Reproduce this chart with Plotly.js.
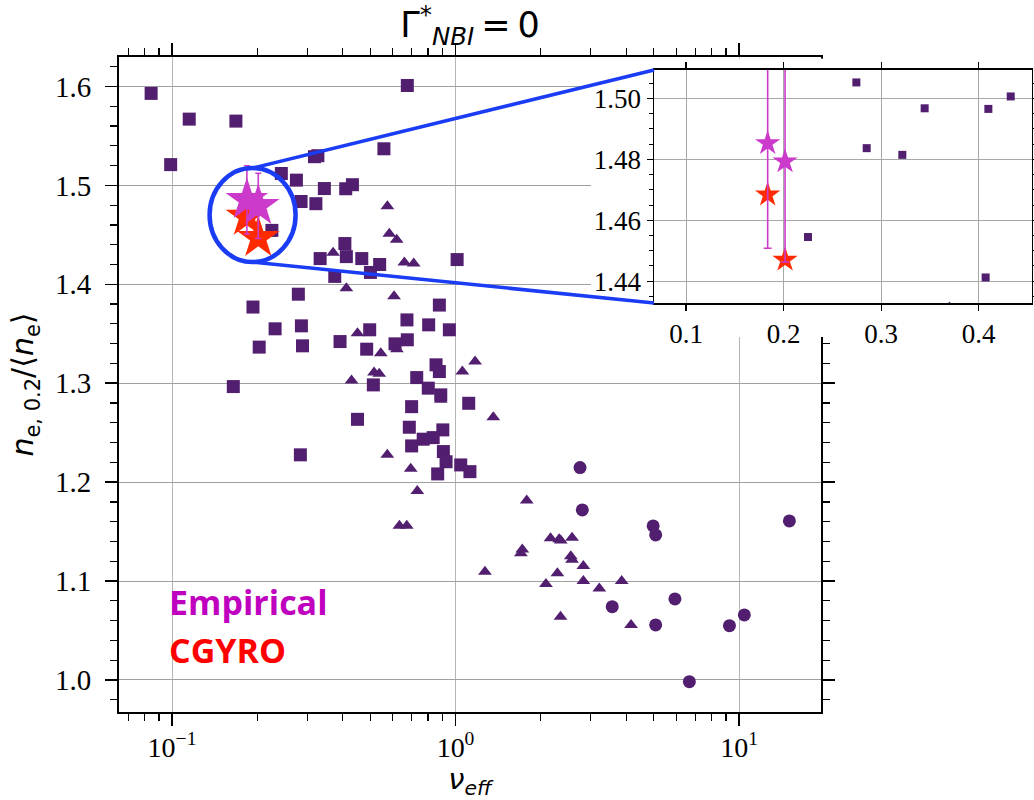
<!DOCTYPE html>
<html>
<head>
<meta charset="utf-8">
<script src="https://cdn.plot.ly/plotly-3.0.1.min.js"></script>
<style>html,body{margin:0;padding:0;background:#fff;}#chart{width:1034px;height:800px;}</style>
</head>
<body>
<div id="chart"></div>
<script>
// ---- data ----
const squareX = [0.0844,0.115,0.168,0.0989,0.676,0.318,0.327,0.559,0.243,0.2746,0.3446,0.4099,0.4328,0.2852,0.3217,0.225,0.333,0.4071,0.412,0.467,0.540,0.375,0.501,1.013,0.279,0.193,0.877,0.674,0.804,0.286,0.231,0.498,0.951,
  0.203,0.2885,0.3914,0.486,0.6117,0.676,0.8536,0.877,0.513,0.7297,0.8015,0.887,1.113,0.1645,0.700,0.451,0.687,0.902,0.769,0.834,0.700,0.906,0.926,1.043,1.124,0.865,0.2836];
const squareY = [1.593,1.567,1.565,1.521,1.601,1.529,1.530,1.537,1.512,1.5053,1.4968,1.4966,1.5007,1.4837,1.4815,1.4545,1.426,1.4412,1.428,1.426,1.420,1.408,1.412,1.425,1.390,1.377,1.379,1.364,1.359,1.358,1.355,1.354,1.354,
  1.3365,1.3378,1.3421,1.3344,1.3398,1.3439,1.3186,1.3118,1.2983,1.3057,1.2950,1.2882,1.2797,1.2966,1.2763,1.2635,1.2555,1.2528,1.2434,1.2450,1.2366,1.2309,1.2206,1.2174,1.2106,1.2083,1.2276];
const triX = [0.575,0.584,0.620,0.370,0.660,0.712,0.412,0.607,0.451,0.545,0.621,0.516,0.538,0.4297,1.057,1.172,1.359,0.5745,0.695,0.733,0.634,0.673,1.783,1.70,1.72,1.270,0.887,
  2.163,2.32,2.35,2.576,2.576,2.55,2.824,2.287,2.084,2.824,3.215,3.855,2.346,4.16];
const triY = [1.479,1.451,1.445,1.432,1.422,1.421,1.396,1.388,1.3506,1.3303,1.3344,1.3108,1.3095,1.3027,1.3118,1.3219,1.2655,1.2276,1.2134,1.1911,1.156,1.156,1.1813,1.128,1.132,1.1095,1.2832,
  1.1432,1.1422,1.1409,1.1437,1.1214,1.125,1.1153,1.1079,1.0971,1.1001,1.0925,1.1001,1.0640,1.0556];
const circX = [2.749,2.80,4.977,5.08,3.57,5.94,5.08,6.68,9.25,10.44,15.05];
const circY = [1.2147,1.1719,1.1557,1.1466,1.0741,1.0819,1.0556,0.9983,1.0549,1.0657,1.1608];
const empX = [0.1837,0.2015];
const empY = [1.4853,1.4793];
const empErr = [0.0345,0.033];
const cgX = [0.1837,0.2015];
const cgY = [1.4684,1.4470];
const mainXTicks = [0.1,1,10];
const mainXTickText = ['10<sup>−1</sup>','10<sup>0</sup>','10<sup>1</sup>'];
const mainXMinorTicks = [0.07,0.08,0.09,0.2,0.3,0.4,0.5,0.6,0.7,0.8,0.9,2,3,4,5,6,7,8,9,20];
const titleText = 'Γ<sup>*</sup><sub><i>NBI</i></sub>\u2009=\u20090';
const xTitle = '<i>ν</i><sub><i>eff</i></sub>';
const yTitle = '<i>n</i><sub>e, 0.2</sub>/⟨<i>n</i><sub>e</sub>⟩';
const labelEmp = 'Empirical';
const labelCg = 'CGYRO';

// ---- styles / layout geometry ----
const PURPLE = '#521e70';
const MAGENTA = '#cc3acc';
const RED = '#ff2a00';
const BLUE = '#1a3cf5';
const PAPER_W = 915, PAPER_H = 655;
const mainDomX = [0, 0.7672];
const xRange = [-1.187, 1.289];
const yRange = [0.9676, 1.6298];
const padDomX = [0.5158, 1];
const padDomY = [0.5725, 0.9975];
const insDomX = [0.5847, 0.9978];
const insDomY = [0.6244, 0.9802];

function pts(x, y, sym, size, axes) {
  return {type:'scatter', mode:'markers', x:x, y:y, xaxis:axes[0], yaxis:axes[1],
    marker:{symbol:sym, size:size, color:PURPLE, line:{width:0}}, showlegend:false, hoverinfo:'x+y'};
}
function stars(x, y, color, size, axes, err, cap) {
  const t = {type:'scatter', mode:'markers', x:x, y:y, xaxis:axes[0], yaxis:axes[1],
    marker:{symbol:'star', size:size, color:color, line:{width:0}}, showlegend:false};
  if (err) t.error_y = {type:'data', array:err, visible:true, color:color, thickness:1.6, width:cap};
  return t;
}
const M = ['x','y'], I = ['x3','y3'];
const traces = [
  pts(squareX, squareY, 'square', 13, M),
  pts(triX, triY, 'triangle-up', 12, M),
  pts(circX, circY, 'circle', 13, M),
  stars(cgX, cgY, RED, 32, M),
  stars(empX, empY, MAGENTA, 32, M, empErr, 3),
  {type:'scatter', mode:'markers', x:[0], y:[0], xaxis:'x2', yaxis:'y2', marker:{opacity:0}, hoverinfo:'skip', showlegend:false},
  pts(squareX, squareY, 'square', 8, I),
  pts(triX, triY, 'triangle-up', 8, I),
  pts(circX, circY, 'circle', 8, I),
  stars(cgX, cgY, RED, 19, I),
  stars(empX, empY, MAGENTA, 19, I, empErr, 4)
];

// ellipse centre from the star data, converted to paper units through the axis ranges
const allSx = cgX.concat(empX), allSy = cgY.concat(empY);
const cx = Math.pow(10, allSx.reduce((a,v)=>a+Math.log10(v),0)/allSx.length);
const cy = allSy.reduce((a,v)=>a+v,0)/allSy.length;
const RX = 43, RY = 47;
const ellPaperX = mainDomX[0] + (mainDomX[1]-mainDomX[0])*(Math.log10(cx)-xRange[0])/(xRange[1]-xRange[0]);
const ellPaperY = (cy - yRange[0])/(yRange[1]-yRange[0]);

const SERIF = 'Liberation Serif';
const xTickFont = {family:SERIF, size:28, color:'black'};
const yTickFont = {family:SERIF, size:29, color:'black'};
const insFont = {family:SERIF, size:27, color:'black'};

const layout = {
  width:1034, height:800,
  margin:{l:119, r:0, t:57, b:88},
  paper_bgcolor:'white', plot_bgcolor:'white',
  showlegend:false,
  title:{text:titleText, font:{family:'DejaVu Sans', size:35, color:'black'},
    x:(mainDomX[0]+mainDomX[1])/2, xref:'paper', xanchor:'center', y:1-25/800, yref:'container', yanchor:'middle'},
  xaxis:{type:'log', range:xRange, domain:mainDomX, anchor:'y',
    tickvals:mainXTicks, ticktext:mainXTickText, tickfont:xTickFont, ticklabelstandoff:-3,
    showline:true, linecolor:'black', linewidth:2, mirror:'allticks',
    ticks:'outside', ticklen:12, tickwidth:1.5, tickcolor:'black',
    showgrid:true, gridcolor:'#b4b4b4', gridwidth:1, zeroline:false,
    minor:{tickmode:'array', tickvals:mainXMinorTicks, ticks:'outside', ticklen:7, tickwidth:1.2, tickcolor:'black', showgrid:false},
    title:{text:xTitle, font:{family:'DejaVu Sans', size:29, color:'black'}, standoff:19}},
  yaxis:{range:yRange, domain:[0,1], anchor:'x', dtick:0.1, tick0:1, tickformat:'.1f', tickfont:yTickFont,
    ticklabelstandoff:8,
    showline:true, linecolor:'black', linewidth:2, mirror:'allticks',
    ticks:'outside', ticklen:12, tickwidth:1.5, tickcolor:'black',
    showgrid:true, gridcolor:'#a0a0a0', gridwidth:1, zeroline:false,
    minor:{dtick:0.02, ticks:'outside', ticklen:7, tickwidth:1.2, tickcolor:'black', showgrid:false},
    title:{text:yTitle, font:{family:'DejaVu Sans', size:30, color:'black'}, standoff:12}},
  xaxis2:{domain:padDomX, anchor:'y2', range:[0,1], visible:false, fixedrange:true},
  yaxis2:{domain:padDomY, anchor:'x2', range:[0,1], visible:false, fixedrange:true},
  xaxis3:{domain:insDomX, anchor:'y3', range:[0.0672,0.4546], dtick:0.1, tick0:0, tickformat:'.1f', tickfont:insFont,
    showline:true, linecolor:'black', linewidth:1.5, mirror:'allticks',
    ticks:'outside', ticklen:6, tickwidth:1.2, tickcolor:'black',
    showgrid:true, gridcolor:'#a8a8a8', gridwidth:1, zeroline:false},
  yaxis3:{domain:insDomY, anchor:'x3', range:[1.4328,1.5094], dtick:0.02, tick0:1.44, tickformat:'.2f', tickfont:insFont,
    showline:true, linecolor:'black', linewidth:1.5, mirror:'allticks',
    ticks:'outside', ticklen:6, tickwidth:1.2, tickcolor:'black',
    showgrid:true, gridcolor:'#a8a8a8', gridwidth:1, zeroline:false,
    minor:{dtick:0.005, ticks:'outside', ticklen:4, tickwidth:1, tickcolor:'black', showgrid:false}},
  shapes:[
    {type:'circle', xref:'paper', yref:'paper',
     x0:ellPaperX-RX/PAPER_W, x1:ellPaperX+RX/PAPER_W, y0:ellPaperY-RY/PAPER_H, y1:ellPaperY+RY/PAPER_H,
     line:{color:BLUE, width:4.5}, layer:'above'},
    {type:'line', xref:'paper', yref:'paper', x0:ellPaperX, y0:ellPaperY+RY/PAPER_H, x1:insDomX[0], y1:insDomY[1],
     line:{color:BLUE, width:3.5}, layer:'above'},
    {type:'line', xref:'paper', yref:'paper', x0:ellPaperX, y0:ellPaperY-RY/PAPER_H, x1:insDomX[0], y1:insDomY[0],
     line:{color:BLUE, width:3.5}, layer:'above'}
  ],
  annotations:[
    {text:'<b>'+labelEmp+'</b>', xref:'paper', yref:'paper', x:0.0525, y:0.1687, xanchor:'left', yanchor:'middle',
     showarrow:false, font:{family:'Open Sans', size:34, color:'#bf00bf'}},
    {text:'<b>'+labelCg+'</b>', xref:'paper', yref:'paper', x:0.0525, y:0.0954, xanchor:'left', yanchor:'middle',
     showarrow:false, font:{family:'Open Sans', size:34, color:'#ff0000'}}
  ]
};
Plotly.newPlot('chart', traces, layout, {displayModeBar:false, staticPlot:true});
</script>
</body>
</html>
